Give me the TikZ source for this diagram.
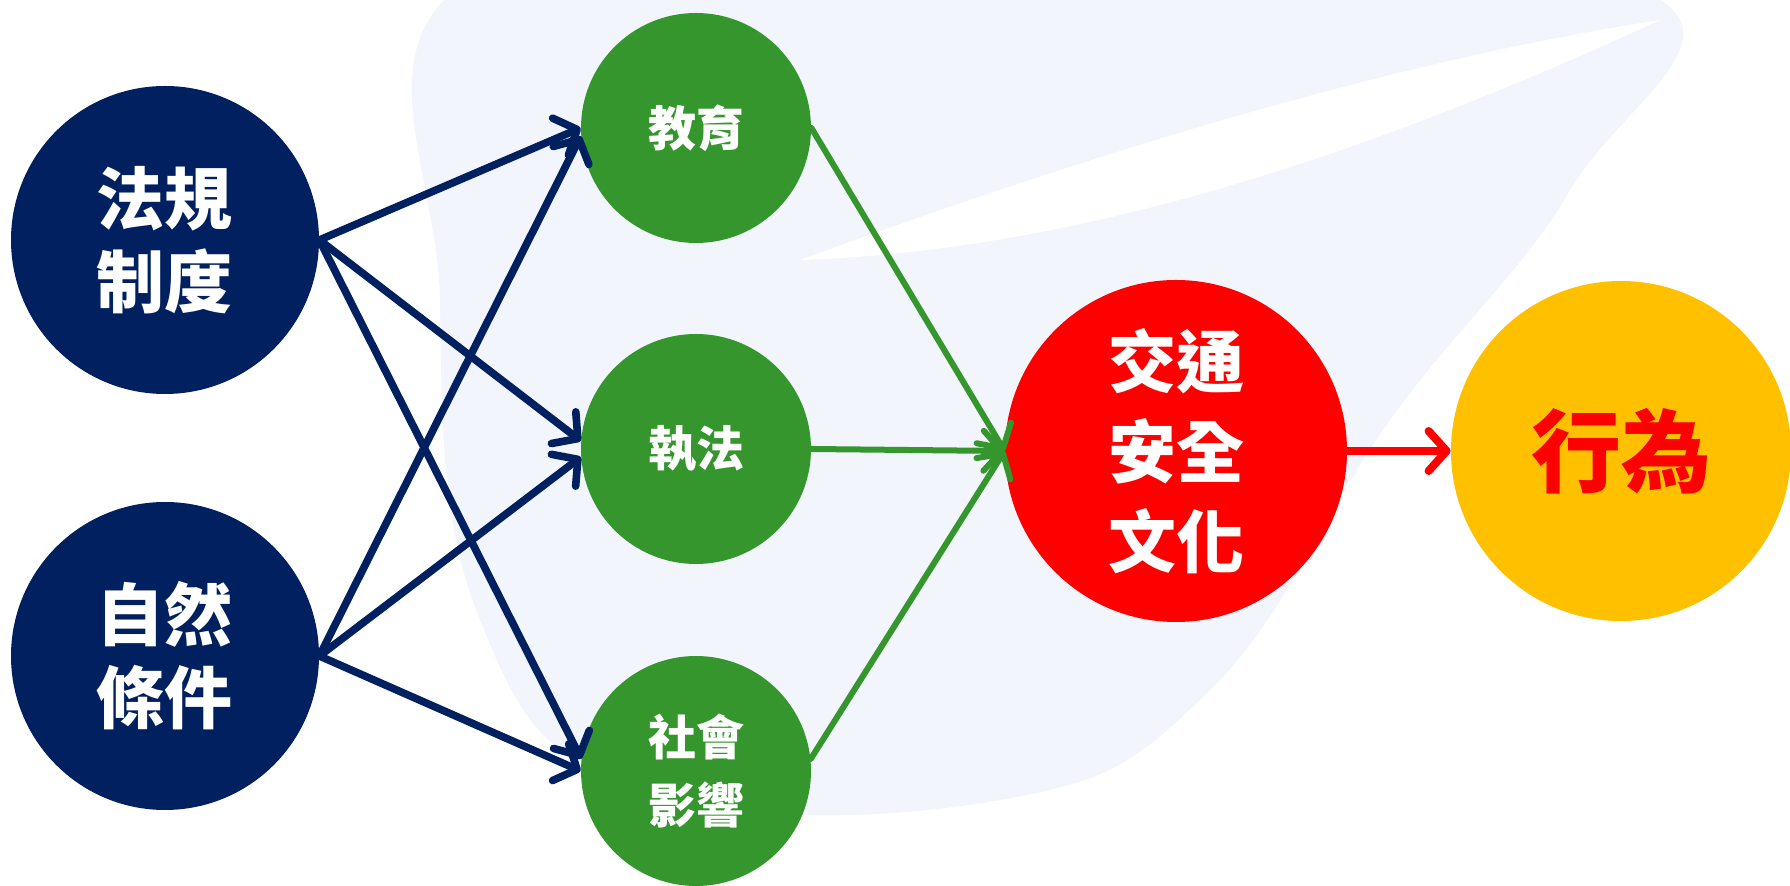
\documentclass[tikz,border=0pt]{standalone}
\usepackage{fontspec}
\setmainfont{Noto Sans CJK TC}
\usetikzlibrary{arrows.meta}
\definecolor{navy}{HTML}{002060}
\definecolor{grn}{HTML}{36962E}
\definecolor{gold}{HTML}{FFC000}
\definecolor{wm}{HTML}{F2F5FB}
\tikzset{
  bignode/.style={circle, inner sep=0pt, align=center, text=white, font=\bfseries\fontsize{34pt}{41.5pt}\selectfont},
  midnode/.style={circle, fill=grn, minimum size=115pt, inner sep=0pt, align=center, text=white, font=\bfseries\fontsize{24pt}{34pt}\selectfont},
  barb/.style={-{Straight Barb[length=9pt,width=20pt,line cap=round,line join=round]}},
  navyarrow/.style={draw=navy, line width=3.8pt, line cap=round, barb},
  grnarrow/.style={draw=grn, line width=3pt, line cap=round, barb},
  redarrow/.style={draw=red, line width=4pt, line cap=round, barb}
}
\begin{document}
\begin{tikzpicture}[x=0.5pt,y=-0.5pt]
\useasboundingbox (0,0) rectangle (1790,886);
\clip (0,0) rectangle (1790,886);
\fill[white] (0,0) rectangle (1790,886);
% faint watermark
\fill[wm] plot[smooth cycle, tension=0.7] coordinates {(470,-20) (1000,-40) (1640,-10) (1570,190) (1390,420) (1210,690) (1000,800) (640,790) (480,620) (440,300)};
\fill[white] (800,260) .. controls (1100,150) and (1400,60) .. (1660,20)
   .. controls (1400,140) and (1100,250) .. (800,260) -- cycle;
% nodes
\node[bignode, fill=navy, minimum size=154pt] (A) at (165,240) {法規\\制度};
\node[bignode, fill=navy, minimum size=154pt] (B) at (165,656) {自然\\條件};
\node[midnode] (E) at (696,128) {教育};
\node[midnode] (L) at (696,449) {執法};
\node[midnode] (S) at (696,771) {社會\\影響};
\node[bignode, fill=red, minimum size=171pt, font=\bfseries\fontsize{34pt}{45pt}\selectfont] (C) at (1176,451) {交通\\安全\\文化};
\node[bignode, fill=gold, minimum size=170pt, text=red, font=\bfseries\fontsize{45pt}{50pt}\selectfont] (X) at (1621,451) {行為};
% connectors
\draw[navyarrow] (A.east) -- (E.west);
\draw[navyarrow] (A.east) -- (L.176);
\draw[navyarrow] (A.east) -- (S.174);
\draw[navyarrow] (B.east) -- (E.184);
\draw[navyarrow] (B.east) -- (L.184);
\draw[navyarrow] (B.east) -- (S.west);
\draw[grnarrow] (E.east) -- (C.west);
\draw[grnarrow] (L.east) -- (C.west);
\draw[grnarrow] (S.6) -- (C.west);
\draw[redarrow] (C.east) -- (X.west);
\end{tikzpicture}
\end{document}
